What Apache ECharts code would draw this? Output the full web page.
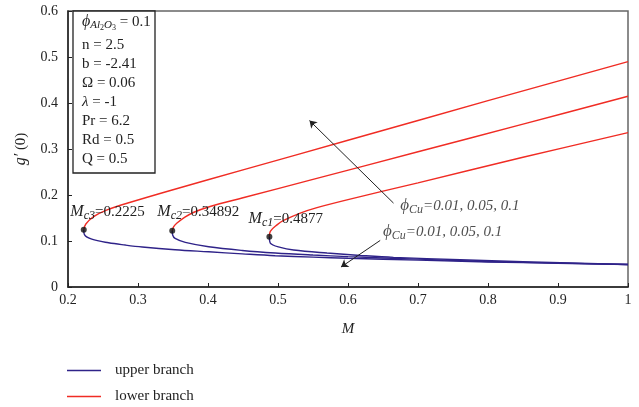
<!DOCTYPE html>
<html>
<head>
<meta charset="utf-8">
<script src="https://cdn.jsdelivr.net/npm/echarts@6/dist/echarts.min.js"></script>
<style>
    html, body { margin: 0; padding: 0; background: #fff; }
    #container { width: 639px; height: 407px; }
</style>
</head>
<body>
<div id="container"></div>
<script type="text/javascript">
    // [M, g'(0)]
    var lower3 = [[0.2225,0.1245],[0.2255,0.137],[0.2366,0.153],[0.255,0.167],[0.2843,0.182],[0.35,0.2115],[0.45,0.2545],[0.6,0.319],[0.8,0.405],[1,0.49]];
    var lower2 = [[0.34892,0.1222],[0.351,0.131],[0.3557,0.139],[0.367,0.152],[0.379,0.162],[0.403,0.175],[0.45,0.194],[0.55,0.234],[0.7,0.294],[0.85,0.354],[1,0.4146]];
    var lower1 = [[0.4877,0.109],[0.489,0.121],[0.4986,0.135],[0.508,0.1446],[0.5318,0.1607],[0.5557,0.1725],[0.6,0.19],[0.7,0.2265],[0.85,0.282],[1,0.3355]];
    var upper3 = [[0.2225,0.1245],[0.2235,0.114],[0.234,0.104],[0.258,0.0962],[0.282,0.0912],[0.306,0.087],[0.353,0.081],[0.401,0.0765],[0.449,0.072],[0.496,0.068],[0.55,0.065],[0.6,0.0625],[0.7,0.0585],[0.8,0.0545],[0.9,0.0515],[1,0.049]];
    var upper2 = [[0.34892,0.1222],[0.3495,0.113],[0.353,0.1056],[0.3676,0.097],[0.401,0.0875],[0.449,0.0795],[0.496,0.074],[0.55,0.0695],[0.6,0.066],[0.7,0.0605],[0.8,0.0555],[0.9,0.052],[1,0.049]];
    var upper1 = [[0.4877,0.109],[0.489,0.0955],[0.5033,0.086],[0.5223,0.0803],[0.57,0.0738],[0.6176,0.0686],[0.665,0.0643],[0.7604,0.0593],[0.85,0.055],[0.93,0.0515],[1,0.049]];
    var critical = [[0.2225,0.1245],[0.34892,0.1222],[0.4877,0.109]];
    var criticalNames = ['c3', 'c2', 'c1'];
    var criticalValues = ['0.2225', '0.34892', '0.4877'];
    var params = ['n = 2.5', 'b = -2.41', '\u03A9 = 0.06', '{it|\u03BB} = -1', 'Pr = 6.2', 'Rd = 0.5', 'Q = 0.5'];

    var serif = 'Liberation Serif';
    var blue = '#2f2389';
    var red = '#f02c24';

    var dom = document.getElementById("container");
    var myChart = echarts.init(dom);

    function curve(name, data, color) {
        return {
            name: name,
            type: 'line',
            data: data,
            smooth: 0.35,
            showSymbol: false,
            symbol: 'none',
            lineStyle: {color: color, width: 1.4},
            itemStyle: {color: color},
            z: 3
        };
    }

    // M_c labels, placed next to the turning points
    var mLabelPos = [[0.2033,0.1635],[0.3276,0.1635],[0.458,0.148]];
    var mLabels = mLabelPos.map(function (p, i) {
        return {
            coord: p,
            value: criticalValues[i],
            label: {formatter: '{m|M}{s|' + criticalNames[i] + '}{r|=' + criticalValues[i] + '}'}
        };
    });

    var option = {
        backgroundColor: '#fff',
        animation: false,
        textStyle: {fontFamily: serif},
        grid: {
            left: 68, right: 11, top: 11, bottom: 120,
            show: true, borderColor: '#666', borderWidth: 1.5
        },
        legend: {
            orient: 'vertical',
            left: 67, top: 363, height: 60, padding: 0,
            itemWidth: 34, itemHeight: 1.5, itemGap: 11,
            icon: 'rect',
            data: [
                {name: 'upper branch', itemStyle: {color: blue}},
                {name: 'lower branch', itemStyle: {color: red}}
            ],
            textStyle: {fontFamily: serif, fontSize: 15, color: '#222', padding: [0, 0, 0, 9]}
        },
        xAxis: {
            type: 'value', min: 0.2, max: 1, interval: 0.1,
            name: 'M', nameLocation: 'middle', nameGap: 35,
            nameTextStyle: {fontFamily: serif, fontSize: 15, fontStyle: 'italic', color: '#222'},
            axisLine: {lineStyle: {color: '#222', width: 1.5}},
            axisTick: {inside: true, length: 4, lineStyle: {color: '#222'}},
            axisLabel: {fontFamily: serif, fontSize: 14, color: '#222', margin: 6},
            splitLine: {show: false}
        },
        yAxis: {
            type: 'value', min: 0, max: 0.6, interval: 0.1,
            name: '{g|g\u2032} (0)', nameLocation: 'middle', nameGap: 39, nameRotate: 90,
            nameTextStyle: {fontFamily: serif, fontSize: 15, color: '#222', rich: {g: {fontFamily: serif, fontSize: 16, fontStyle: 'italic', color: '#222'}}},
            axisLine: {lineStyle: {color: '#222', width: 1.5}},
            axisTick: {inside: true, length: 4, lineStyle: {color: '#222'}},
            axisLabel: {fontFamily: serif, fontSize: 14, color: '#222', margin: 10},
            splitLine: {show: false}
        },
        series: [
            curve('lower branch', lower3, red),
            curve('lower branch', lower2, red),
            curve('lower branch', lower1, red),
            curve('upper branch', upper3, blue),
            curve('upper branch', upper2, blue),
            curve('upper branch', upper1, blue),
            {
                name: 'critical',
                type: 'scatter',
                data: critical,
                symbolSize: 6,
                itemStyle: {color: '#111'},
                z: 5,
                markPoint: {
                    symbol: 'circle', symbolSize: 0,
                    label: {
                        show: true, position: 'right', distance: 0,
                        rich: {
                            m: {fontFamily: serif, fontSize: 16, fontStyle: 'italic', color: '#222'},
                            s: {fontFamily: serif, fontSize: 12, fontStyle: 'italic', color: '#222', padding: [8, 0, 0, 0]},
                            r: {fontFamily: serif, fontSize: 15, color: '#222'}
                        }
                    },
                    data: mLabels
                },
                markLine: {
                    silent: true,
                    symbol: ['none', 'arrow'],
                    symbolSize: 7,
                    lineStyle: {color: '#222', width: 1, type: 'solid'},
                    label: {show: false},
                    data: [
                        [{coord: [0.665, 0.1824]}, {coord: [0.545, 0.3618]}],
                        [{coord: [0.646, 0.1012]}, {coord: [0.59, 0.0434]}]
                    ]
                }
            },
            {
                name: 'phiCu',
                type: 'scatter',
                data: [[0.6747, 0.1765], [0.650, 0.12]],
                symbolSize: 0,
                label: {
                    show: true, position: 'right', distance: 0,
                    formatter: '{p|\u03D5}{s|Cu}{r|=0.01, 0.05, 0.1}',
                    rich: {
                        p: {fontFamily: serif, fontSize: 17, fontStyle: 'italic', color: '#222'},
                        s: {fontFamily: serif, fontSize: 12, fontStyle: 'italic', color: '#222', padding: [8, 0, 0, 0]},
                        r: {fontFamily: serif, fontSize: 15, fontStyle: 'italic', color: '#222'}
                    }
                },
                z: 6
            }
        ],
        graphic: [
            {
                type: 'rect',
                shape: {x: 73, y: 11, width: 82, height: 162},
                style: {fill: '#fff', stroke: '#222', lineWidth: 1.3},
                z: 10
            },
            {
                type: 'text', left: 82, top: 14, z: 11,
                style: {
                    text: '{p|\u03D5}{s|Al}{ss|2}{s|O}{ss|3}{r| = 0.1}',
                    rich: {
                        p: {fontFamily: serif, fontSize: 16, fontStyle: 'italic', fill: '#222'},
                        s: {fontFamily: serif, fontSize: 11, fontStyle: 'italic', fill: '#222', padding: [7, 0, 0, 0]},
                        ss: {fontFamily: serif, fontSize: 8, fill: '#222', padding: [11, 0, 0, 0]},
                        r: {fontFamily: serif, fontSize: 15, fill: '#222'}
                    }
                }
            }
        ].concat(params.map(function (t, i) {
            return {
                type: 'text', left: 82, top: 38 + i * 19, z: 11,
                style: {
                    text: t,
                    font: '15px ' + serif,
                    fill: '#222',
                    rich: {it: {fontFamily: serif, fontSize: 15, fontStyle: 'italic', fill: '#222'}}
                }
            };
        }))
    };

    myChart.setOption(option, true);
</script>
</body>
</html>
